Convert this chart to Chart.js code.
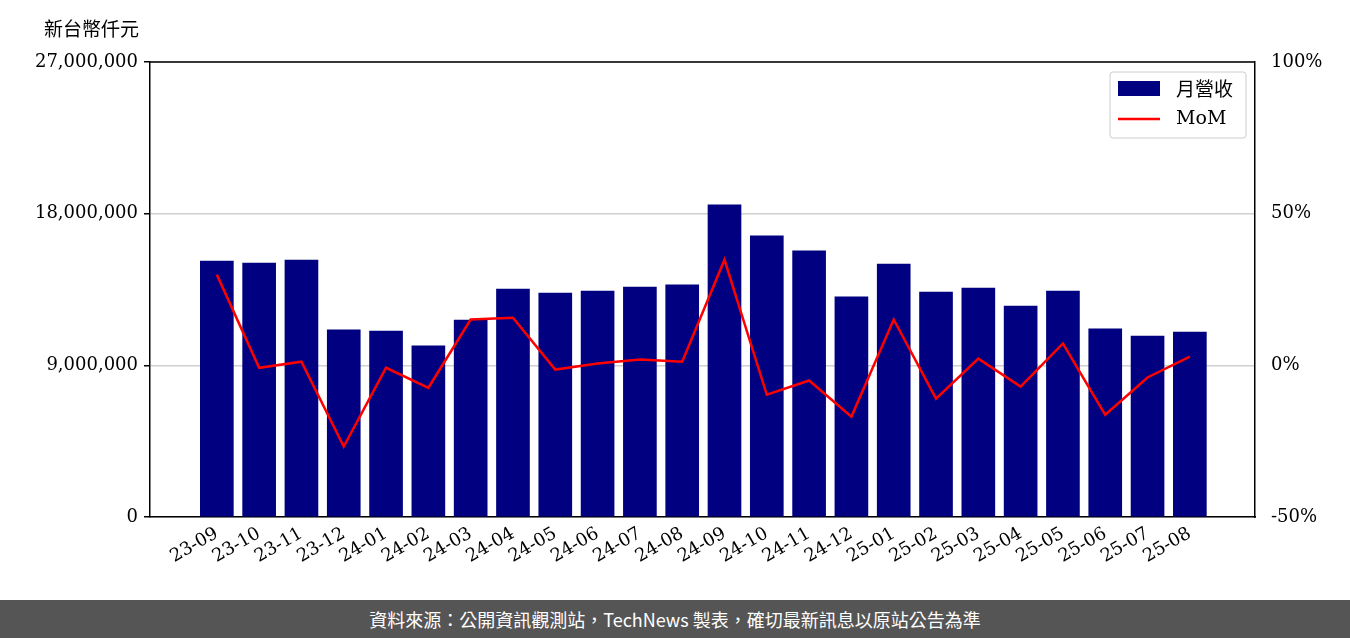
<!DOCTYPE html>
<html><head><meta charset="utf-8">
<script src="https://cdn.jsdelivr.net/npm/chart.js@4"></script>
<style>
body{margin:0;width:1350px;height:638px;background:#fff;position:relative;overflow:hidden}
#wrap{position:absolute;left:0;top:0;width:1350px;height:600px}
#unit{position:absolute;left:44px;top:14px;font:19px "Noto Sans CJK TC";color:#000}
#foot{position:absolute;left:0;top:600px;width:1350px;height:38px;background:#555;color:#fff;font:18px "Noto Sans CJK TC";text-align:center;line-height:38px}
</style></head><body>
<div id="wrap"><canvas id="c" width="1350" height="600"></canvas></div>
<div id="unit">新台幣仟元</div>
<div id="foot">資料來源：公開資訊觀測站，TechNews 製表，確切最新訊息以原站公告為準</div>
<script>
const categories=["23-09","23-10","23-11","23-12","24-01","24-02","24-03","24-04","24-05","24-06","24-07","24-08","24-09","24-10","24-11","24-12","25-01","25-02","25-03","25-04","25-05","25-06","25-07","25-08"];
const revenue=[15190000,15070000,15250000,11100000,11040000,10150000,11690000,13530000,13290000,13410000,13650000,13770000,18520000,16680000,15790000,13060000,15010000,13350000,13590000,12520000,13410000,11160000,10740000,10980000];
const mom=[29.9,-0.8,1.2,-26.8,-0.8,-7.4,15.1,15.7,-1.4,0.6,1.9,1.2,34.8,-9.7,-5.0,-16.9,15.1,-11.0,2.2,-7.0,7.2,-16.3,-4.0,2.9];
const leftTicks=[0,9000000,18000000,27000000];
const rightTicks=[-50,0,50,100];
const F="DejaVu Serif";
const legendPlugin={id:'lg',afterDraw(ch){const c=ch.ctx,a=ch.chartArea;
c.save();c.strokeStyle='#000';c.lineWidth=1.5;c.beginPath();c.moveTo(a.left,a.top);c.lineTo(a.right,a.top);c.stroke();
const x=1110,y=72,w=136,h=66;
c.fillStyle='rgba(255,255,255,0.85)';c.strokeStyle='#ccc';c.lineWidth=1;
c.beginPath();c.roundRect(x,y,w,h,3);c.fill();c.stroke();
c.fillStyle='#000080';c.fillRect(x+8,y+9,42,15);
c.strokeStyle='#ff0000';c.lineWidth=2.5;c.beginPath();c.moveTo(x+8,y+47);c.lineTo(x+50,y+47);c.stroke();
c.fillStyle='#000';c.textBaseline='middle';c.font='19px "Noto Sans CJK TC"';c.fillText('月營收',x+66,y+17);
c.font='19px '+F;c.fillText('MoM',x+66,y+47);c.restore();}};
new Chart(document.getElementById('c'),{
data:{datasets:[
{type:'line',data:mom.map((v,i)=>({x:i,y:v})),yAxisID:'y2',borderColor:'#ff0000',borderWidth:2.5,pointRadius:0,tension:0},
{type:'bar',data:revenue.map((v,i)=>({x:i,y:v})),yAxisID:'y',backgroundColor:'#000080',barThickness:33}
]},
options:{responsive:false,maintainAspectRatio:false,animation:false,devicePixelRatio:1,
layout:{padding:{top:62,left:0,right:0,bottom:0}},
plugins:{legend:{display:false},tooltip:{enabled:false}},
scales:{
x:{type:'linear',offset:false,min:-1.58,max:24.54,afterBuildTicks(s){s.ticks=categories.map((c,i)=>({value:i}));},
afterFit(s){s.height=83;},grid:{display:false,drawTicks:true,tickLength:6},border:{color:'#000',width:1.5},
ticks:{autoSkip:false,maxRotation:30,minRotation:30,padding:0,color:'#000',font:{family:F,size:18},callback:(v)=>categories[v]}},
y:{position:'left',min:0,max:27000000,afterBuildTicks(s){s.ticks=leftTicks.map(v=>({value:v}));},
afterFit(s){s.width=150;},grid:{color:'#d0d0d0',lineWidth:1.5,tickLength:6,tickColor:'#000'},border:{color:'#000',width:1.5},
ticks:{color:'#000',padding:6,font:{family:F,size:18},callback:v=>v.toLocaleString('en-US')}},
y2:{position:'right',min:-50,max:100,afterBuildTicks(s){s.ticks=rightTicks.map(v=>({value:v}));},
afterFit(s){s.width=95;},grid:{display:false,tickLength:6},border:{color:'#000',width:1.5},
ticks:{color:'#000',padding:10,font:{family:F,size:18},callback:v=>v+'%'}}
}},plugins:[legendPlugin]});
</script></body></html>
